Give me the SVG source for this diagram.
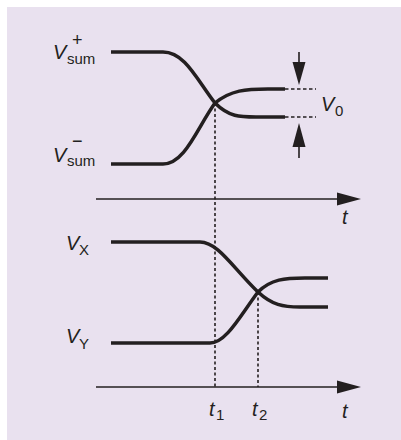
<svg xmlns="http://www.w3.org/2000/svg" width="401" height="440" viewBox="0 0 401 440">
<style>
.curve{fill:none;stroke:#231f20;stroke-width:3.5;stroke-linecap:butt}
.axis{fill:none;stroke:#231f20;stroke-width:1.6}
.dash{fill:none;stroke:#231f20;stroke-width:1.6;stroke-dasharray:3,2.5}
.hdash{fill:none;stroke:#231f20;stroke-width:1.3;stroke-dasharray:3.5,2.5}
.head{fill:#231f20}
text{font-family:"Liberation Sans",Arial,sans-serif;fill:#231f20}
.v{font-size:20px;font-style:italic}
.sub{font-size:15px}
.sup{font-size:18px}
</style>
<rect x="7" y="7" width="394" height="433" fill="#e9e1ef"/>
<g id="connectors">
<path class="dash" d="M215,103 V387"/>
<path class="dash" d="M258,292 V387"/>
<path class="hdash" d="M285,89 H316"/>
<path class="hdash" d="M285,117 H316"/>
<path class="axis" d="M299,52 V63"/>
<polygon class="head" points="292.5,62 305.5,62 299,85"/>
<path class="axis" d="M299,147 V158"/>
<polygon class="head" points="292.5,147 305.5,147 299,123"/>
</g>
<g id="top-axis">
<path class="axis" d="M96,199 H338"/>
<polygon class="head" points="337,192.5 361,199 337,205.5"/>
<text class="v" x="342" y="224">t</text>
</g>
<g id="bottom-axis">
<path class="axis" d="M96,387 H338"/>
<polygon class="head" points="337,380.5 361,387 337,393.5"/>
<text class="v" x="342" y="418">t</text>
</g>
<g id="vsum-plus">
<path class="curve" d="M111,52 H163 C185,52 197,80 215,103 C229,117 240,117 256,117 H285"/>
<text x="53" y="59"><tspan class="v">V</tspan><tspan class="sub" x="67" y="64">sum</tspan><tspan class="sup" x="72" y="46">+</tspan></text>
</g>
<g id="vsum-minus">
<path class="curve" d="M111,164 H163 C185,164 197,128 215,103 C231,90 246,89 268,89 H285"/>
<text x="53" y="162"><tspan class="v">V</tspan><tspan class="sub" x="67" y="166">sum</tspan><tspan class="sup" x="72" y="147">−</tspan></text>
</g>
<g id="v0">
<text x="321" y="111"><tspan class="v">V</tspan><tspan class="sub" x="335" y="116">0</tspan></text>
</g>
<g id="vx">
<path class="curve" d="M111,242 H200 C218,242 233,268 258,292 C272,305 283,307 300,307 H328"/>
<text x="66" y="250"><tspan class="v">V</tspan><tspan class="sub" x="79" y="255">X</tspan></text>
</g>
<g id="vy">
<path class="curve" d="M111,343 H210 C226,343 240,316 258,292 C271,279 285,278 305,278 H328"/>
<text x="66" y="343"><tspan class="v">V</tspan><tspan class="sub" x="79" y="349">Y</tspan></text>
</g>
<g id="t1">
<text x="209" y="416"><tspan class="v">t</tspan><tspan class="sub" x="216" y="420">1</tspan></text>
</g>
<g id="t2">
<text x="252" y="416"><tspan class="v">t</tspan><tspan class="sub" x="259" y="420">2</tspan></text>
</g>
</svg>
